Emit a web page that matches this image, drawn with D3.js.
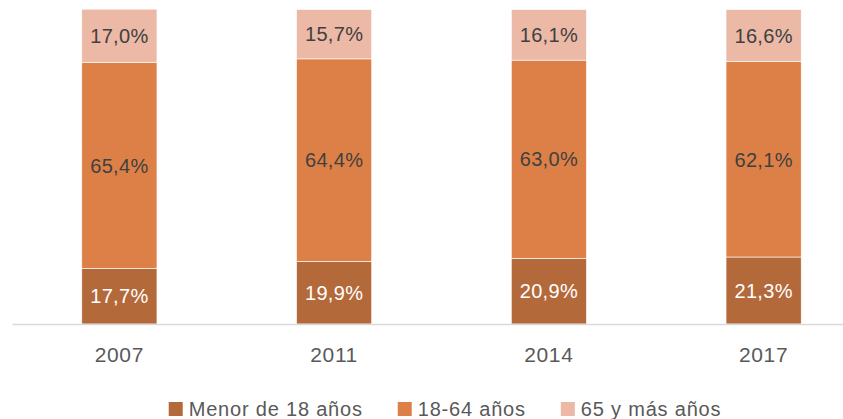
<!DOCTYPE html>
<html>
<head>
<meta charset="utf-8">
<script src="https://cdn.jsdelivr.net/npm/d3@7"></script>
<style>
  body { margin: 0; background: #fff; }
  svg { display: block; font-family: "Liberation Sans", Arial, sans-serif; }
</style>
</head>
<body>
<svg id="chart" width="843" height="419"></svg>
<script>
// data
const YEARS = ['2007', '2011', '2014', '2017']
const SERIES = ['Menor de 18 años', '18-64 años', '65 y más años']
const MENOR_18 = [17.7, 19.9, 20.9, 21.3]
const ENTRE_18_64 = [65.4, 64.4, 63.0, 62.1]
const MAYOR_65 = [17.0, 15.7, 16.1, 16.6]
const COLORS = ['#b4693a', '#dd8047', '#ebb9a6']
const LABEL_COLORS = ['#ffffff', '#404040', '#404040']

let rows = YEARS.map((year, i) => ({
  year: year,
  [SERIES[0]]: MENOR_18[i],
  [SERIES[1]]: ENTRE_18_64[i],
  [SERIES[2]]: MAYOR_65[i]
}))

let svg = d3.select('#chart')

let x = d3.scaleBand().domain(YEARS).range([12, 871]).paddingInner(0.65).paddingOuter(0.325)
let y = d3.scaleLinear().domain([0, 100]).range([324, 9.5])

let stacked = d3.stack().keys(SERIES)(rows)

let fmt = v => v.toFixed(1).replace('.', ',') + '%'

// bars
let layers = svg.selectAll('g.layer')
  .data(stacked)
  .enter()
  .append('g')
  .attr('class', 'layer')

layers.selectAll('rect')
  .data(d => d)
  .enter()
  .append('rect')
  .attr('x', d => x(d.data.year))
  .attr('width', x.bandwidth())
  .attr('y', d => y(d[1]))
  .attr('height', d => y(d[0]) - y(d[1]))
  .attr('fill', function () { return COLORS[d3.select(this.parentNode).datum().index] })
  .attr('stroke', '#ffffff')
  .attr('stroke-width', 0.6)

// data labels
layers.selectAll('text')
  .data(d => d.map(v => ({ v: v, idx: d.index })))
  .enter()
  .append('text')
  .attr('x', d => x(d.v.data.year) + x.bandwidth() / 2)
  .attr('y', d => (y(d.v[0]) + y(d.v[1])) / 2)
  .attr('dy', '0.36em')
  .attr('text-anchor', 'middle')
  .attr('font-size', '20px')
  .attr('letter-spacing', '0.3px')
  .attr('fill', d => LABEL_COLORS[d.idx])
  .text(d => fmt(d.v[1] - d.v[0]))

// axis
let axis = svg.append('g')
  .attr('transform', 'translate(0, 324)')
  .call(d3.axisBottom(x).tickSize(0).tickPadding(23))
axis.select('.domain').attr('stroke', '#d9d9d9').attr('stroke-width', 1.5)
axis.selectAll('text')
  .attr('font-size', '21px')
  .attr('letter-spacing', '0.6px')
  .attr('font-family', '"Liberation Sans", Arial, sans-serif')
  .attr('fill', '#595959')

// legend
let legend = svg.append('g')
let items = legend.selectAll('g')
  .data(SERIES)
  .enter()
  .append('g')

items.append('rect')
  .attr('width', 14)
  .attr('height', 14)
  .attr('y', -7)
  .attr('fill', (d, i) => COLORS[i])

items.append('text')
  .attr('x', 20)
  .attr('dy', '0.36em')
  .attr('font-size', '20px')
  .attr('letter-spacing', '0.8px')
  .attr('fill', '#595959')
  .text(d => d)

let offset = 0
items.each(function () {
  let w = 20 + this.querySelector('text').getComputedTextLength()
  d3.select(this).attr('transform', `translate(${offset}, 0)`)
  offset += w + 35
})
let total = offset - 35
legend.attr('transform', `translate(${445 - total / 2}, 409)`)
</script>
</body>
</html>
